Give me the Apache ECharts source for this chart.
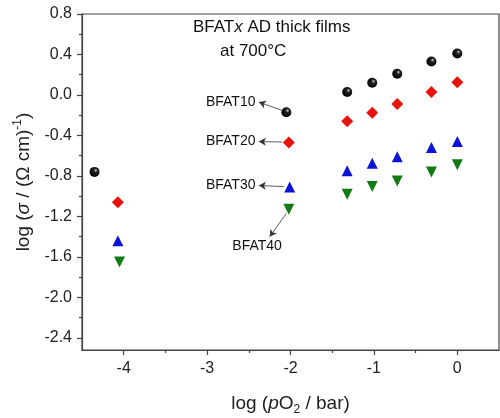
<!DOCTYPE html>
<html><head><meta charset="utf-8">
<script src="https://cdn.jsdelivr.net/npm/echarts@6/dist/echarts.min.js"></script>
<style>html,body{margin:0;padding:0;background:#fff}#c{width:500px;height:418px}</style>
</head><body><div id="c"></div>
<script>
// Data
const bfat10 = [[-4.35,-0.76],[-2.05,-0.17],[-1.32,0.03],[-1.02,0.12],[-0.72,0.21],[-0.31,0.33],[0.0,0.41]];
const bfat20 = [[-4.07,-1.06],[-2.02,-0.47],[-1.32,-0.26],[-1.02,-0.175],[-0.72,-0.09],[-0.31,0.03],[0.0,0.125]];
const bfat30 = [[-4.07,-1.44],[-2.01,-0.91],[-1.32,-0.75],[-1.02,-0.675],[-0.72,-0.61],[-0.31,-0.52],[0.0,-0.46]];
const bfat40 = [[-4.05,-1.65],[-2.02,-1.13],[-1.32,-0.98],[-1.02,-0.905],[-0.72,-0.85],[-0.31,-0.76],[0.0,-0.69]];
const xTicks = [-4,-3,-2,-1,0];
const xMinor = [-3.5,-2.5,-1.5,-0.5];
const yTicks = [-2.4,-2.0,-1.6,-1.2,-0.8,-0.4,0.0,0.4,0.8];
const yMinor = [-2.2,-1.8,-1.4,-1.0,-0.6,-0.2,0.2,0.6];
// annotations: label, text anchor [x,y], arrow from, arrow to
const annoLabels = ['BFAT10','BFAT20','BFAT30','BFAT40'];
const annoText = [[-2.42,-0.07],[-2.42,-0.46],[-2.42,-0.895],[-2.40,-1.49]];
const annoFrom = [[-2.11,-0.15],[-2.10,-0.465],[-2.08,-0.905],[-2.05,-1.17]];
const annoTo = [[-2.38,-0.07],[-2.38,-0.46],[-2.38,-0.895],[-2.25,-1.40]];

const FONT = 'Liberation Sans';
const AX = '#444';
const chart = echarts.init(document.getElementById('c'));

const markLineData = annoLabels.map((l,i)=>[{coord:annoFrom[i]},{coord:annoTo[i]}]);
const markPointData = annoLabels.map((l,i)=>({coord:annoText[i], value:l, label:{align: i===3?'center':'right'}}));

chart.setOption({
  animation:false,
  textStyle:{fontFamily:FONT},
  grid:{left:82,top:14,width:417,height:336,show:true,borderColor:AX,borderWidth:1.2,containLabel:false,outerBoundsMode:'none'},
  xAxis:[{
    type:'value',min:-4.5,max:0.5,
    axisLine:{onZero:false,lineStyle:{color:AX,width:1.2}},
    axisTick:{show:true,length:5,customValues:xTicks,lineStyle:{color:AX,width:1.2}},
    axisLabel:{customValues:xTicks,color:'#222',fontSize:16,margin:11,fontFamily:FONT},
    splitLine:{show:false},
    name:'{n|log (}{i|p}{n|O}{s|2}{n| / bar)}',nameLocation:'middle',nameGap:42,
    nameTextStyle:{rich:{n:{fontSize:19,color:'#222',fontFamily:FONT},i:{fontSize:19,fontStyle:'italic',color:'#222',fontFamily:FONT},s:{fontSize:12,color:'#222',padding:[12,0,0,0],fontFamily:FONT}}}
  },{
    type:'value',min:-4.5,max:0.5,position:'bottom',
    axisLine:{show:false,onZero:false},
    axisTick:{show:true,length:3,customValues:xMinor,lineStyle:{color:AX,width:1.2}},
    axisLabel:{show:false},splitLine:{show:false}
  }],
  yAxis:[{
    type:'value',min:-2.52,max:0.8,
    axisLine:{show:true,onZero:false,lineStyle:{color:AX,width:1.2}},
    axisTick:{show:true,length:5,customValues:yTicks,lineStyle:{color:AX,width:1.2}},
    axisLabel:{customValues:yTicks,color:'#222',fontSize:16,margin:10,fontFamily:FONT,formatter:v=>v.toFixed(1)},
    splitLine:{show:false},
    name:'{n|log (}{i|σ}{n| / (Ω cm)}{s|-1}{n|)}',nameLocation:'middle',nameGap:46,nameRotate:90,
    nameTextStyle:{rich:{n:{fontSize:19,color:'#222',fontFamily:FONT},i:{fontSize:19,fontStyle:'italic',color:'#222',fontFamily:FONT},s:{fontSize:12,color:'#222',padding:[0,0,12,0],fontFamily:FONT}}}
  },{
    type:'value',min:-2.52,max:0.8,position:'left',
    axisLine:{show:false,onZero:false},
    axisTick:{show:true,length:3,customValues:yMinor,lineStyle:{color:AX,width:1.2}},
    axisLabel:{show:false},splitLine:{show:false}
  }],
  graphic:[
    {type:'text',left:193,top:19,style:{text:'{n|BFAT}{i|x}{n| AD thick films}',rich:{n:{fontSize:17,fill:'#111',fontFamily:FONT},i:{fontSize:17,fontStyle:'italic',fill:'#111',fontFamily:FONT}}}},
    {type:'text',left:220,top:43,style:{text:'at 700°C',fontSize:17,fill:'#111',fontFamily:FONT}}
  ],
  series:[
    {type:'scatter',name:'BFAT10',data:bfat10,symbol:'circle',symbolSize:10,
     itemStyle:{opacity:1,color:{type:'radial',x:0.62,y:0.35,r:0.65,colorStops:[{offset:0,color:'#c8c8c8'},{offset:0.3,color:'#222'},{offset:1,color:'#000'}]}},
     markLine:{silent:true,symbol:['none','arrow'],symbolSize:[6,7],lineStyle:{color:'#333',width:0.8,type:'solid'},label:{show:false},data:markLineData},
     markPoint:{symbol:'circle',symbolSize:0,label:{show:true,formatter:p=>p.value,fontSize:14,color:'#111',fontFamily:FONT,verticalAlign:'middle'},data:markPointData}
    },
    {type:'scatter',name:'BFAT20',data:bfat20,symbol:'diamond',symbolSize:12,itemStyle:{opacity:1,color:'#e8120c'}},
    {type:'scatter',name:'BFAT30',data:bfat30,symbol:'triangle',symbolSize:11,itemStyle:{opacity:1,color:'#0b14d6'}},
    {type:'scatter',name:'BFAT40',data:bfat40,symbol:'triangle',symbolRotate:180,symbolSize:11,itemStyle:{opacity:1,color:'#137a13'}}
  ]
});
</script></body></html>
